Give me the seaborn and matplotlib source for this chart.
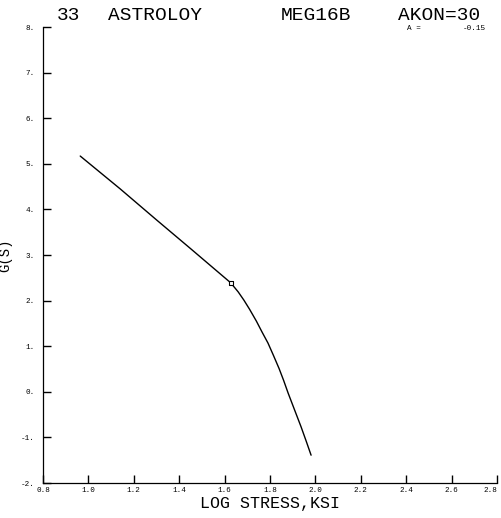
import matplotlib
matplotlib.use("Agg")
import matplotlib.pyplot as plt
import seaborn as sns
import pandas as pd

# Data
log_stress = [0.964, 1.14, 1.30, 1.45, 1.627, 1.66, 1.685, 1.71, 1.74, 1.765, 1.791,
              1.815, 1.84, 1.86, 1.88, 1.91, 1.937, 1.96, 1.981]
g_s = [5.17, 4.45, 3.77, 3.14, 2.39, 2.19, 2.01, 1.81, 1.55, 1.31, 1.07,
       0.80, 0.51, 0.25, -0.03, -0.42, -0.77, -1.09, -1.39]
marker_x = [1.627]
marker_y = [2.39]
x_ticks = [0.8, 1.0, 1.2, 1.4, 1.6, 1.8, 2.0, 2.2, 2.4, 2.6, 2.8]
x_tick_labels = ["0.8", "1.0", "1.2", "1.4", "1.6", "1.8", "2.0", "2.2", "2.4", "2.6", "2.8"]
y_ticks = [8, 7, 6, 5, 4, 3, 2, 1, 0, -1, -2]
y_tick_labels = ["8.", "7.", "6.", "5.", "4.", "3.", "2.", "1.", "0.", "-1.", "-2."]

sns.set_style("ticks")
plt.rcParams['font.family'] = ['Liberation Mono', 'DejaVu Sans Mono']
plt.rcParams['text.color'] = 'black'
plt.rcParams['axes.labelcolor'] = 'black'

fig = plt.figure(figsize=(5.02, 5.18), dpi=100)
ax = fig.add_axes([43/502, 1-483/518, (497-43)/502, (483-27)/518])

df = pd.DataFrame({"x": log_stress, "y": g_s})
sns.lineplot(data=df, x="x", y="y", ax=ax, sort=False, estimator=None,
             color="black", linewidth=1.0)
sns.scatterplot(x=marker_x, y=marker_y, ax=ax, marker="s", s=8,
                facecolor="white", edgecolor="black", linewidth=0.8, zorder=5)

ax.set_xlim(0.8, 2.8)
ax.set_ylim(-2, 8)
ax.set_xticks(x_ticks)
ax.set_xticklabels(x_tick_labels, fontsize=5.5)
ax.set_yticks(y_ticks)
ax.set_yticklabels(y_tick_labels, fontsize=5.5)
ax.tick_params(axis="both", which="major", direction="in", length=6, width=1.0,
               color="black", labelcolor="black", bottom=True, left=True)
ax.tick_params(axis="x", pad=3)
ax.tick_params(axis="y", pad=6)
ax.get_xticklabels()[-1].set_horizontalalignment("right")

for s in ["top", "right"]:
    ax.spines[s].set_visible(False)
for s in ["left", "bottom"]:
    ax.spines[s].set_linewidth(0.9)
    ax.spines[s].set_color("black")

ax.set_xlabel("LOG STRESS,KSI", fontsize=12, labelpad=1)
ax.set_ylabel("G(S)", fontsize=10, labelpad=6)

fig.text(57/502, 1-16/518, "33", fontsize=14, va="center", ha="left")
fig.text(108/502, 1-16/518, "ASTROLOY", fontsize=14, va="center", ha="left")
fig.text(281/502, 1-16/518, "MEG16B", fontsize=14, va="center", ha="left")
fig.text(398/502, 1-16/518, "AKON=30", fontsize=14, va="center", ha="left")
fig.text(407/502, 1-29/518, "A =", fontsize=5.5, va="center", ha="left")
fig.text(486/502, 1-29/518, "-0.15", fontsize=5.5, va="center", ha="right")

fig.savefig("out.png", dpi=100)
